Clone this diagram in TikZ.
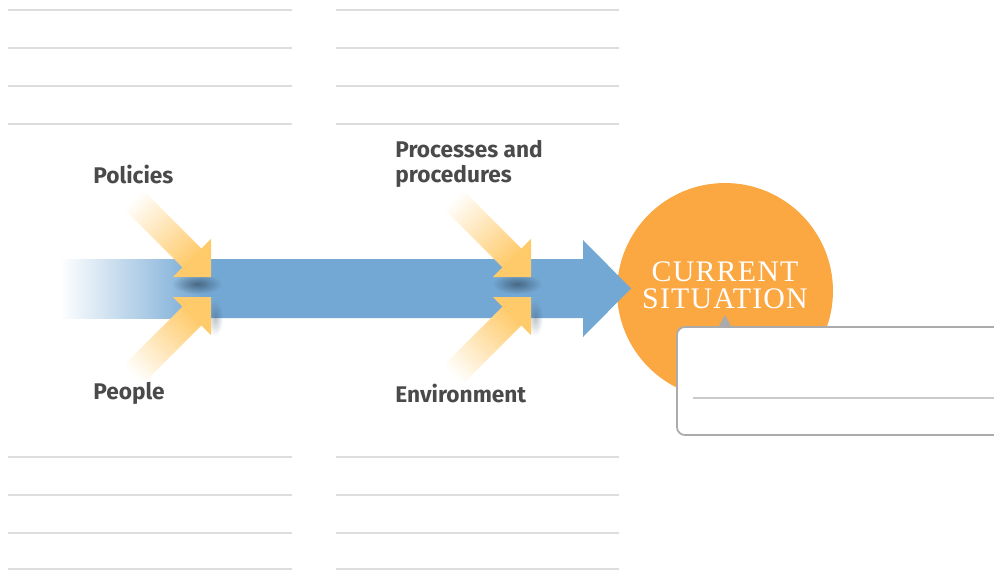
\documentclass[tikz,border=0pt]{standalone}
\usepackage{fontspec}
\setsansfont{Fira Sans}
\newfontfamily\situfont[LetterSpace=4]{Liberation Serif}
\usetikzlibrary{fadings}
\definecolor{flowblue}{HTML}{74A8D4}
\definecolor{causeyellow}{HTML}{FFCA6A}
\definecolor{situorange}{HTML}{FBA742}
\definecolor{rulegrey}{HTML}{DDDDDD}
\definecolor{boxgrey}{HTML}{ABABAB}
\definecolor{labelgrey}{HTML}{4A4A4A}
\tikzfading[name=softspot,inner color=transparent!10,outer color=transparent!100]

% yellow cause arrow: tip, rotation, shading angle
\newcommand{\causearrow}[3]{%
\begin{scope}[shift={#1},rotate=#2]
\shade[top color=white,bottom color=causeyellow,shading angle=#3] (-115,-13.4) rectangle (-20,13.4);
\fill[causeyellow] (0,0) -- (-27,-27) -- (-27,27) -- cycle;
\end{scope}}

\begin{document}
\begin{tikzpicture}[x=0.02cm,y=-0.02cm,
	rule/.style={rulegrey,line width=1.2pt},
	cause/.style={font=\sffamily\bfseries\fontsize{12.9}{14.2}\selectfont,text=labelgrey,align=left,anchor=west,inner sep=0pt},
	shadow/.style={flowblue!40!black,opacity=.7,path fading=softspot}]
\useasboundingbox (0,0) rectangle (994,571);
\foreach \y in {10,48,86,124,457,495,533,569}
{
	\draw[rule] (8,\y) -- (292,\y);
	\draw[rule] (336,\y) -- (619,\y);
}
\node[circle,fill=situorange,minimum size=4.32cm,inner sep=0pt] (situation) at (725,291) {};
\node[font=\situfont\fontsize{17}{15.3}\selectfont,text=white,align=center,inner sep=0pt] (situationtext) at (725,285) {CURRENT\\SITUATION};
% main flow
\coordinate (flowtip) at (631,288.5);
\shade[left color=white,right color=flowblue] (60,259) rectangle (202,318);
\fill[flowblue] (200,259) -- (583,259) -- (583,240) -- (flowtip) -- (583,337) -- (583,318) -- (200,318) -- cycle;
\fill[shadow] (172,274) rectangle (222,294);
\fill[shadow] (492,274) rectangle (542,294);
\fill[shadow,opacity=.35] (207,300) rectangle (223,336);
\fill[shadow,opacity=.35] (527,300) rectangle (543,336);
\causearrow{(211,277)}{-45}{45}
\causearrow{(211,297)}{45}{135}
\causearrow{(531,277)}{-45}{45}
\causearrow{(531,297)}{45}{135}
\node[cause] (policies) at (93,175) {Policies};
\node[cause] (processes) at (395,163.5) {Processes and\\procedures};
\node[cause] (people) at (93,393) {People};
\node[cause] (environment) at (395,393) {Environment};
% callout
\draw[boxgrey,line width=1pt,fill=white,rounded corners=4.5pt] (677,327) rectangle (1010,435);
\fill[boxgrey] (718,327.5) -- (725,315) -- (732,327.5) -- cycle;
\draw[rulegrey!80!gray,line width=.6pt] (693,398) -- (1000,398);
\end{tikzpicture}
\end{document}
